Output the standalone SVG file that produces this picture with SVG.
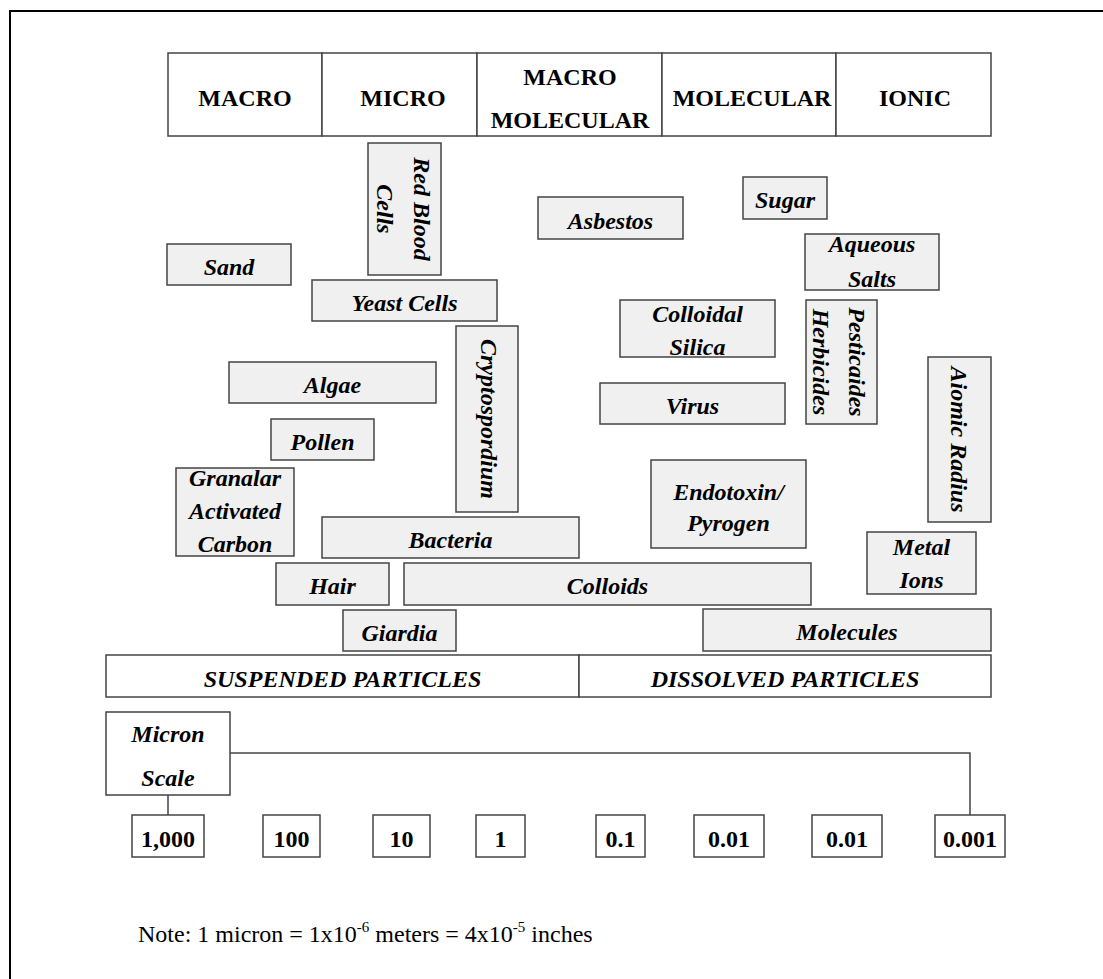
<svg xmlns="http://www.w3.org/2000/svg" width="1103" height="979" viewBox="0 0 1103 979">
  <style>
    .box { fill: #f0f0f0; stroke: #444; stroke-width: 1.5; }
    .plain { fill: #ffffff; stroke: #444; stroke-width: 1.5; }
    .lbl { font-family: "Liberation Serif", "Times New Roman", serif; font-size: 24px; font-weight: bold; font-style: italic; text-anchor: middle; fill: #000; }
    .hdr { font-family: "Liberation Serif", "Times New Roman", serif; font-size: 24px; font-weight: bold; text-anchor: middle; fill: #000; }
    .note { font-family: "Liberation Serif", "Times New Roman", serif; font-size: 24px; fill: #000; }
    .wire { fill: none; stroke: #444; stroke-width: 1.5; }
  </style>

  <rect x="0" y="0" width="1103" height="979" fill="#ffffff"/>
  <!-- page frame -->
  <path d="M10,979 V11 H1103" fill="none" stroke="#000" stroke-width="2"/>

  <!-- size class header -->
  <g id="hdr-macro">
    <rect class="plain" x="168" y="53" width="154" height="83"/>
    <text class="hdr" x="245" y="106">MACRO</text>
  </g>
  <g id="hdr-micro">
    <rect class="plain" x="322" y="53" width="155" height="83"/>
    <text class="hdr" x="403" y="106">MICRO</text>
  </g>
  <g id="hdr-macromolecular">
    <rect class="plain" x="477" y="53" width="185" height="83"/>
    <text class="hdr" x="570" y="85">MACRO</text>
    <text class="hdr" x="570" y="128">MOLECULAR</text>
  </g>
  <g id="hdr-molecular">
    <rect class="plain" x="662" y="53" width="174" height="83"/>
    <text class="hdr" x="752" y="106">MOLECULAR</text>
  </g>
  <g id="hdr-ionic">
    <rect class="plain" x="836" y="53" width="155" height="83"/>
    <text class="hdr" x="915" y="106">IONIC</text>
  </g>

  <!-- particles -->
  <g id="red-blood-cells">
    <rect class="box" x="368" y="143" width="73" height="132"/>
    <text class="lbl" transform="translate(414,209) rotate(90)">Red Blood</text>
    <text class="lbl" transform="translate(377,209) rotate(90)">Cells</text>
  </g>
  <g id="asbestos">
    <rect class="box" x="538" y="197" width="145" height="42"/>
    <text class="lbl" x="610.5" y="229">Asbestos</text>
  </g>
  <g id="sugar">
    <rect class="box" x="743" y="177" width="84" height="42"/>
    <text class="lbl" x="785" y="208">Sugar</text>
  </g>
  <g id="sand">
    <rect class="box" x="167" y="244" width="124" height="41"/>
    <text class="lbl" x="229" y="275">Sand</text>
  </g>
  <g id="aqueous-salts">
    <rect class="box" x="805" y="234" width="134" height="56"/>
    <text class="lbl" x="872" y="252">Aqueous</text>
    <text class="lbl" x="872" y="287">Salts</text>
  </g>
  <g id="yeast-cells">
    <rect class="box" x="312" y="280" width="185" height="41"/>
    <text class="lbl" x="404.5" y="311">Yeast Cells</text>
  </g>
  <g id="colloidal-silica">
    <rect class="box" x="620" y="300" width="155" height="57"/>
    <text class="lbl" x="697.5" y="322">Colloidal</text>
    <text class="lbl" x="697.5" y="355">Silica</text>
  </g>
  <g id="pesticides-herbicides">
    <rect class="box" x="806" y="300" width="71" height="124"/>
    <text class="lbl" transform="translate(849,362) rotate(90)">Pesticaides</text>
    <text class="lbl" transform="translate(813,362) rotate(90)">Herbicides</text>
  </g>
  <g id="cryptosporidium">
    <rect class="box" x="456" y="326" width="62" height="186"/>
    <text class="lbl" transform="translate(481,419) rotate(90)">Cryptospordium</text>
  </g>
  <g id="atomic-radius">
    <rect class="box" x="928" y="357" width="63" height="165"/>
    <text class="lbl" transform="translate(951,439.5) rotate(90)">Aiomic Radius</text>
  </g>
  <g id="algae">
    <rect class="box" x="229" y="362" width="207" height="41"/>
    <text class="lbl" x="332.5" y="393">Algae</text>
  </g>
  <g id="virus">
    <rect class="box" x="600" y="383" width="185" height="41"/>
    <text class="lbl" x="692.5" y="414">Virus</text>
  </g>
  <g id="pollen">
    <rect class="box" x="271" y="419" width="103" height="41"/>
    <text class="lbl" x="322.5" y="450">Pollen</text>
  </g>
  <g id="endotoxin-pyrogen">
    <rect class="box" x="651" y="460" width="155" height="88"/>
    <text class="lbl" x="728.5" y="500">Endotoxin/</text>
    <text class="lbl" x="728.5" y="531">Pyrogen</text>
  </g>
  <g id="granular-activated-carbon">
    <rect class="box" x="176" y="468" width="118" height="88"/>
    <text class="lbl" x="235" y="486">Granalar</text>
    <text class="lbl" x="235" y="519">Activated</text>
    <text class="lbl" x="235" y="552">Carbon</text>
  </g>
  <g id="bacteria">
    <rect class="box" x="322" y="517" width="257" height="41"/>
    <text class="lbl" x="450.5" y="548">Bacteria</text>
  </g>
  <g id="metal-ions">
    <rect class="box" x="867" y="532" width="109" height="62"/>
    <text class="lbl" x="921.5" y="555">Metal</text>
    <text class="lbl" x="921.5" y="588">Ions</text>
  </g>
  <g id="hair">
    <rect class="box" x="276" y="563" width="113" height="42"/>
    <text class="lbl" x="332.5" y="594">Hair</text>
  </g>
  <g id="colloids">
    <rect class="box" x="404" y="563" width="407" height="42"/>
    <text class="lbl" x="607.5" y="594">Colloids</text>
  </g>
  <g id="giardia">
    <rect class="box" x="343" y="610" width="113" height="41"/>
    <text class="lbl" x="399.5" y="641">Giardia</text>
  </g>
  <g id="molecules">
    <rect class="box" x="703" y="609" width="288" height="42"/>
    <text class="lbl" x="847" y="640">Molecules</text>
  </g>

  <!-- particle state bar -->
  <g id="suspended-particles">
    <rect class="plain" x="106" y="655" width="473" height="42"/>
    <text class="lbl" x="342.5" y="687">SUSPENDED PARTICLES</text>
  </g>
  <g id="dissolved-particles">
    <rect class="plain" x="579" y="655" width="412" height="42"/>
    <text class="lbl" x="785" y="687">DISSOLVED PARTICLES</text>
  </g>

  <!-- scale connectors -->
  <g id="connectors">
    <path class="wire" d="M168,795 V815"/>
    <path class="wire" d="M230,753 H970 V815"/>
  </g>

  <g id="micron-scale">
    <rect class="plain" x="106" y="712" width="124" height="83"/>
    <text class="lbl" x="168" y="742">Micron</text>
    <text class="lbl" x="168" y="786">Scale</text>
  </g>

  <!-- micron values -->
  <g id="v-1000">
    <rect class="plain" x="132" y="815" width="72" height="42"/>
    <text class="hdr" x="168" y="847">1,000</text>
  </g>
  <g id="v-100">
    <rect class="plain" x="263" y="815" width="57" height="42"/>
    <text class="hdr" x="291.5" y="847">100</text>
  </g>
  <g id="v-10">
    <rect class="plain" x="373" y="815" width="57" height="42"/>
    <text class="hdr" x="401.5" y="847">10</text>
  </g>
  <g id="v-1">
    <rect class="plain" x="476" y="815" width="49" height="42"/>
    <text class="hdr" x="500.5" y="847">1</text>
  </g>
  <g id="v-0.1">
    <rect class="plain" x="596" y="815" width="49" height="42"/>
    <text class="hdr" x="620.5" y="847">0.1</text>
  </g>
  <g id="v-0.01a">
    <rect class="plain" x="694" y="815" width="70" height="42"/>
    <text class="hdr" x="729" y="847">0.01</text>
  </g>
  <g id="v-0.01b">
    <rect class="plain" x="812" y="815" width="70" height="42"/>
    <text class="hdr" x="847" y="847">0.01</text>
  </g>
  <g id="v-0.001">
    <rect class="plain" x="935" y="815" width="70" height="42"/>
    <text class="hdr" x="970" y="847">0.001</text>
  </g>

  <text class="note" x="138" y="942">Note: 1 micron = 1x10<tspan font-size="15" dy="-10">-6</tspan><tspan dy="10"> meters = 4x10</tspan><tspan font-size="15" dy="-10">-5</tspan><tspan dy="10"> inches</tspan></text>
</svg>
